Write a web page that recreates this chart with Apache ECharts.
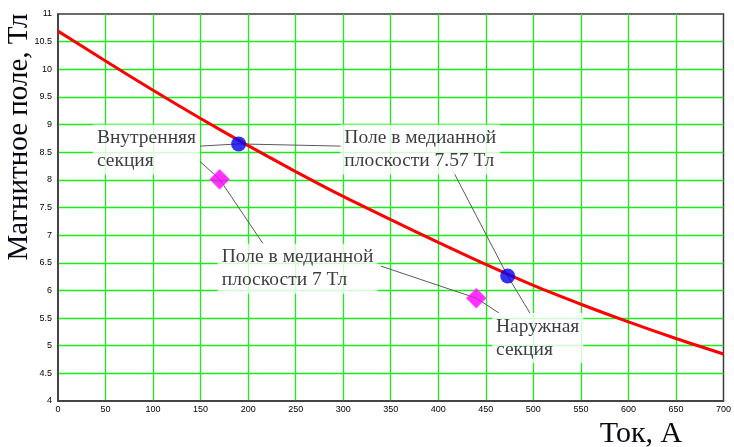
<!DOCTYPE html>
<html>
<head>
<meta charset="utf-8">
<script src="https://cdn.jsdelivr.net/npm/echarts@6/dist/echarts.min.js"></script>
<style>
  html, body { margin: 0; padding: 0; background: #fff; }
  #chart { width: 734px; height: 447px; }
</style>
</head>
<body>
<div id="chart"></div>
<script>
// Field on the axis vs. coil current
const current = [0, 50, 100, 150, 200, 250, 300, 350, 400, 450, 500, 550, 600, 650, 700];
const field = [10.69, 10.15, 9.62, 9.11, 8.62, 8.15, 7.70, 7.28, 6.87, 6.47, 6.09, 5.75, 5.43, 5.13, 4.85];

// Operating points at 7.57 T median field (circles) and 7 T (diamonds)
const points757 = [[190, 8.65], [473, 6.26]];
const points7 = [[170, 8.01], [440, 5.86]];

// Callout texts and their anchor (left edge, vertical middle) in axis units
const calloutTexts = [
  'Внутренняя\nсекция',
  'Поле в медианной\nплоскости 7.57 Тл',
  'Поле в медианной\nплоскости 7 Тл',
  'Наружная\nсекция'
];
const calloutAnchors = [[36.7, 8.55], [297, 8.55], [168, 6.39], [456.5, 5.14]];

// Leader lines from callouts through the points they refer to
const leaders = [
  [[149, 8.61], [190, 8.65], [299, 8.61]],
  [[147, 8.37], [170, 8.01], [215.5, 6.85]],
  [[339.7, 6.44], [440, 5.86], [464, 5.59]],
  [[414.9, 8.18], [473, 6.26], [496.4, 5.59]]
];

const xTitle = 'Ток, А';
const yTitle = 'Магнитное поле, Тл';

const chart = echarts.init(document.getElementById('chart'), null, { renderer: 'canvas' });

const gridGreen = '#19ec19';
const serif = '"Liberation Serif", "Times New Roman", serif';
const tickFont = { fontFamily: '"Liberation Sans", Arial, sans-serif', fontSize: 9, color: '#000' };

const leaderSeries = leaders.map(function (pts) {
  return {
    type: 'line',
    data: pts,
    symbol: 'none',
    silent: true,
    z: 3,
    lineStyle: { color: '#5a5a5a', width: 1 },
    animation: false
  };
});

chart.setOption({
  animation: false,
  backgroundColor: '#fff',
  grid: {
    left: 58, right: 9, top: 14, bottom: 46,
    show: true,
    borderColor: '#3a3a3a',
    borderWidth: 1.5,
    backgroundColor: 'transparent'
  },
  xAxis: {
    type: 'value',
    min: 0, max: 700, interval: 50,
    axisLine: { show: true, lineStyle: { color: '#3a3a3a', width: 1.5 } },
    axisTick: { show: false },
    axisLabel: Object.assign({ margin: 4 }, tickFont),
    splitLine: { show: true, showMinLine: false, showMaxLine: false, lineStyle: { color: gridGreen, width: 1.3 } }
  },
  yAxis: {
    type: 'value',
    min: 4, max: 11, interval: 0.5,
    axisLine: { show: true, lineStyle: { color: '#3a3a3a', width: 1.5 } },
    axisTick: { show: false },
    axisLabel: Object.assign({ margin: 6 }, tickFont),
    splitLine: { show: true, showMinLine: false, showMaxLine: false, lineStyle: { color: gridGreen, width: 1.3 } }
  },
  series: leaderSeries.concat([
    {
      type: 'line',
      data: current.map(function (c, i) { return [c, field[i]]; }),
      smooth: 0.3,
      symbol: 'none',
      z: 4,
      lineStyle: { color: '#ff0000', width: 3 }
    },
    {
      type: 'scatter',
      data: points757,
      symbol: 'circle',
      symbolSize: 15,
      z: 5,
      itemStyle: { color: '#0000f0' }
    },
    {
      type: 'scatter',
      data: points7,
      symbol: 'diamond',
      symbolSize: [20, 20],
      z: 5,
      itemStyle: { color: '#ff00ff', borderColor: '#ff66ff', borderWidth: 1 }
    },
    {
      type: 'scatter',
      data: calloutAnchors.map(function (p, i) { return { value: p, name: calloutTexts[i] }; }),
      symbolSize: 0,
      z: 6,
      silent: true,
      label: {
        show: true,
        position: 'right',
        distance: 0,
        formatter: function (p) { return p.name; },
        fontFamily: serif,
        fontSize: 19.5,
        lineHeight: 23,
        color: '#0a0a10',
        align: 'left',
        backgroundColor: '#fff',
        padding: [2, 4, 2, 4]
      }
    }
  ]),
  graphic: [
    {
      type: 'text',
      x: 19, y: 137,
      rotation: Math.PI / 2,
      style: {
        text: yTitle,
        font: '29px ' + serif,
        fill: '#0a0a14',
        textAlign: 'center',
        textVerticalAlign: 'middle'
      }
    },
    {
      type: 'text',
      x: 641, y: 434,
      style: {
        text: xTitle,
        font: '30px ' + serif,
        fill: '#0a0a14',
        textAlign: 'center',
        textVerticalAlign: 'middle'
      }
    }
  ]
});
</script>
</body>
</html>
